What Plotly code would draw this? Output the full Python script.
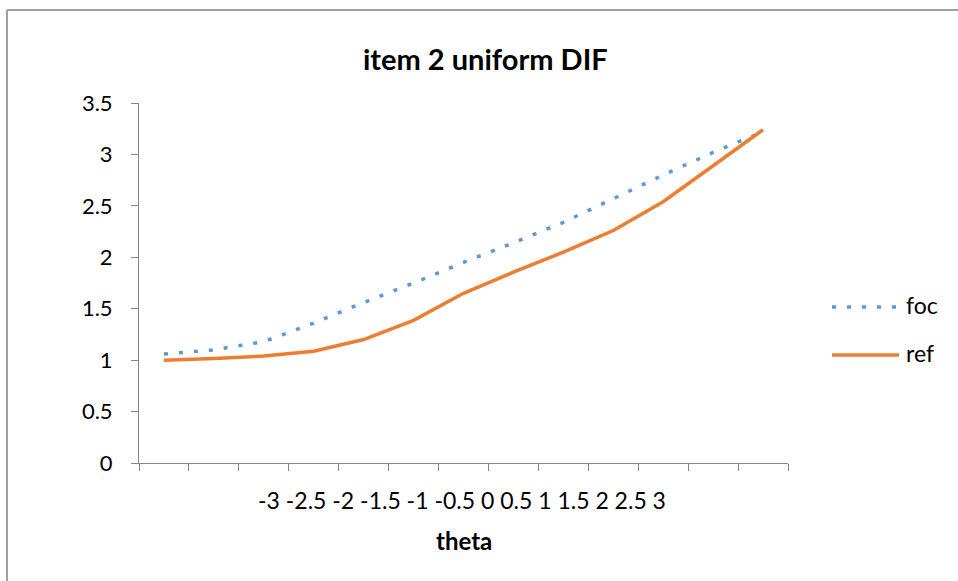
import plotly.graph_objects as go

theta = [-3, -2.5, -2, -1.5, -1, -0.5, 0, 0.5, 1, 1.5, 2, 2.5, 3]
foc = [1.06, 1.10, 1.18, 1.36, 1.56, 1.75, 1.95, 2.14, 2.34, 2.57, 2.80, 3.02, 3.22]
ref = [1.00, 1.015, 1.04, 1.087, 1.20, 1.387, 1.65, 1.855, 2.05, 2.26, 2.54, 2.89, 3.24]
yticks = [0, 0.5, 1, 1.5, 2, 2.5, 3, 3.5]
series_names = ["foc", "ref"]
series_colors = ["#5B9BD5", "#ED7D31"]
series_dash = ["4px,11px", "solid"]

FONT = "Lato"
idx = list(range(len(theta)))

fig = go.Figure()
for name, vals, col, dash in zip(series_names, [foc, ref], series_colors, series_dash):
    fig.add_trace(go.Scatter(
        x=idx, y=vals, mode="lines", name=name, showlegend=False,
        line=dict(color=col, width=3.5, dash=dash),
    ))

# plot area pixel geometry
L, R, T, B = 139, 788, 103, 463
W, H = R - L, B - T
def px(x):
    return (x - L) / W
def py(y):
    return (B - y) / H

label_text = " ".join(f"{t:g}" for t in theta)

shapes = [
    dict(type="line", xref="paper", yref="paper",
         x0=px(7), x1=px(7), y0=py(10), y1=py(600),
         line=dict(color="#A0A0A0", width=2)),
    dict(type="line", xref="paper", yref="paper",
         x0=px(7), x1=px(970), y0=py(10), y1=py(10),
         line=dict(color="#A0A0A0", width=2)),
]
annotations = [
    dict(text="<b>item 2 uniform DIF</b>", xref="paper", yref="paper",
         x=px(485), y=py(58), xanchor="center", yanchor="middle",
         showarrow=False, font=dict(family=FONT, size=29, color="#000")),
    dict(text=label_text, xref="paper", yref="paper",
         x=px(462), y=py(500), xanchor="center", yanchor="middle",
         showarrow=False, font=dict(family=FONT, size=23, color="#000")),
    dict(text="<b>theta</b>", xref="paper", yref="paper",
         x=px(464), y=py(540), xanchor="center", yanchor="middle",
         showarrow=False, font=dict(family=FONT, size=24, color="#000")),
]
# legend (drawn with the series styles)
for i, (name, col, dash) in enumerate(zip(series_names, series_colors, series_dash)):
    yc = 307 + 48 * i
    shapes.append(dict(type="line", xref="paper", yref="paper",
                       x0=px(832), x1=px(899), y0=py(yc), y1=py(yc),
                       line=dict(color=col, width=3.5, dash=dash)))
    annotations.append(dict(text=name, xref="paper", yref="paper",
                            x=px(904), y=py(yc - 2), xanchor="left", yanchor="middle",
                            showarrow=False, font=dict(family=FONT, size=23, color="#000")))

fig.update_layout(
    width=958, height=581,
    margin=dict(l=L, r=958 - R, t=T, b=581 - B),
    paper_bgcolor="white", plot_bgcolor="white",
    font=dict(family=FONT, color="#000000", size=22),
    showlegend=False,
    xaxis=dict(
        range=[-0.5, len(theta) - 0.5],
        tickvals=[i - 0.5 for i in range(len(theta) + 1)],
        ticktext=["" for _ in range(len(theta) + 1)],
        ticks="outside", ticklen=7, tickcolor="#868686", tickwidth=1,
        showline=True, linecolor="#868686", linewidth=1,
        showgrid=False, zeroline=False, fixedrange=True,
    ),
    yaxis=dict(
        range=[0, 3.5],
        tickvals=yticks,
        ticktext=[f"{v:g}" for v in yticks],
        ticks="outside", ticklen=7, tickcolor="#868686", tickwidth=1,
        showline=True, linecolor="#868686", linewidth=1,
        showgrid=False, zeroline=False,
        tickfont=dict(family=FONT, size=22, color="#000"),
        ticklabelstandoff=14,
    ),
    annotations=annotations,
    shapes=shapes,
)

fig.write_html("out.html")
